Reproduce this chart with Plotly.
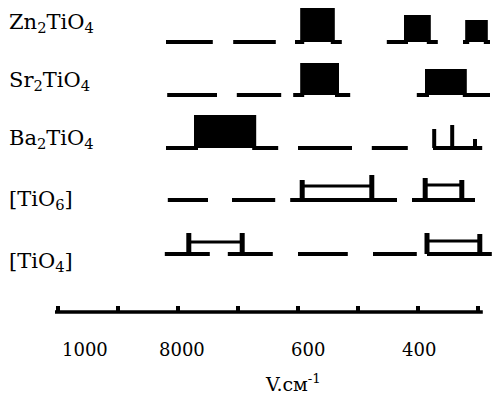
import plotly.graph_objects as go

# ---------------- data (wavenumber, cm-1; heights in relative units) ----------------
rows = ["Zn<sub>2</sub>TiO<sub>4</sub>", "Sr<sub>2</sub>TiO<sub>4</sub>", "Ba<sub>2</sub>TiO<sub>4</sub>",
        "[TiO<sub>6</sub>]", "[TiO<sub>4</sub>]"]

# plain baseline segments (start, end)
zn_dashes = [(820, 742), (708, 637)]
sr_dashes = [(818, 735), (702, 628)]
ba_dashes = [(600, 510), (477, 417), (375, 293)]
tio6_dashes = [(817, 750), (710, 638), (613, 435), (410, 305)]
tio4_dashes = [(822, 747), (717, 642), (600, 517), (475, 402), (385, 277)]

# strong bands: (foot start, body left, body right, foot end, height)
zn_bands = [(605, 593, 542, 527, 32), (452, 420, 382, 367, 25), (325, 318, 287, 280, 20)]
sr_bands = [(608, 593, 535, 513, 30), (402, 385, 322, 280, 24)]
ba_bands = [(820, 770, 673, 633, 31)]

# weak lines: (position, height)
ba_lines = [(373, 19), (343, 23), (305, 9)]

# band ranges: (left pos, left height, right pos, right height, bar height)
tio6_ranges = [(593, 20, 477, 25, 14), (388, 22, 327, 20, 15)]
tio4_ranges = [(782, 21, 693, 21, 12), (385, 21, 297, 20, 13)]

# scale
scale_ticks = [1000, 900, 800, 700, 600, 500, 400, 300]
scale_span = (1005, 292)
tick_labels = ["1000", "8000", "600", "400"]
tick_label_pos = [955, 793, 583, 398]
axis_title = "V.см<sup>-1</sup>"
axis_title_pos = 608

# ---------------- layout constants ----------------
W, H = 497, 397
row_base = [355, 302, 249, 197, 143]   # baseline of each row (y units = px from bottom)
row_label_y = [374, 316, 258, 197, 135]
scale_y = 85
tick_len = 6
BLACK = "#000000"

fig = go.Figure()


def add_segments(segs, yb, width=4):
    xs, ys = [], []
    for a, b in segs:
        xs += [a, b, None]
        ys += [yb, yb, None]
    fig.add_trace(go.Scatter(x=xs, y=ys, mode="lines", line=dict(color=BLACK, width=width),
                             hoverinfo="skip", showlegend=False))


def add_bands(bands, yb):
    xs, ys = [], []
    for fs, bl, br, fe, h in bands:
        xs += [fs, bl, bl, br, br, fe, None]
        ys += [yb, yb, yb + h, yb + h, yb, yb, None]
    fig.add_trace(go.Scatter(x=xs, y=ys, mode="lines", fill="toself", fillcolor=BLACK,
                             line=dict(color=BLACK, width=4), hoverinfo="skip", showlegend=False))


def add_lines(lines, yb, width=4):
    xs, ys = [], []
    for p, h in lines:
        xs += [p, p, None]
        ys += [yb, yb + h, None]
    fig.add_trace(go.Scatter(x=xs, y=ys, mode="lines", line=dict(color=BLACK, width=width),
                             hoverinfo="skip", showlegend=False))


def add_ranges(ranges, yb):
    verts = []
    xs, ys = [], []
    for lp, lh, rp, rh, bh in ranges:
        verts += [(lp, lh), (rp, rh)]
        xs += [lp, rp, None]
        ys += [yb + bh, yb + bh, None]
    add_lines(verts, yb, width=5)
    fig.add_trace(go.Scatter(x=xs, y=ys, mode="lines", line=dict(color=BLACK, width=3),
                             hoverinfo="skip", showlegend=False))


# Zn2TiO4
add_segments(zn_dashes, row_base[0])
add_bands(zn_bands, row_base[0])
# Sr2TiO4
add_segments(sr_dashes, row_base[1])
add_bands(sr_bands, row_base[1])
# Ba2TiO4
add_segments(ba_dashes, row_base[2])
add_bands(ba_bands, row_base[2])
add_lines(ba_lines, row_base[2])
# [TiO6]
add_segments(tio6_dashes, row_base[3])
add_ranges(tio6_ranges, row_base[3])
# [TiO4]
add_segments(tio4_dashes, row_base[4])
add_ranges(tio4_ranges, row_base[4])

# scale line with ticks
add_segments([scale_span], scale_y, width=3.5)
add_lines([(t, tick_len) for t in scale_ticks], scale_y, width=4)

annotations = []
for name, yl in zip(rows, row_label_y):
    annotations.append(dict(text=name, x=7 / W, xref="paper", y=yl, yref="y",
                            xanchor="left", yanchor="middle", showarrow=False,
                            font=dict(family="DejaVu Serif", size=21, color=BLACK)))
for lab, pos in zip(tick_labels, tick_label_pos):
    annotations.append(dict(text=lab, x=pos, xref="x", y=48, yref="y",
                            xanchor="center", yanchor="middle", showarrow=False,
                            font=dict(family="DejaVu Serif", size=18, color=BLACK)))
annotations.append(dict(text=axis_title, x=axis_title_pos, xref="x", y=14, yref="y",
                        xanchor="center", yanchor="middle", showarrow=False,
                        font=dict(family="DejaVu Serif", size=19, color=BLACK)))

x_left = 1000 + 58 / 0.6
x_right = 1000 - (W - 58) / 0.6

fig.update_layout(
    width=W, height=H,
    margin=dict(l=0, r=0, t=0, b=0),
    paper_bgcolor="white", plot_bgcolor="white",
    xaxis=dict(range=[x_left, x_right], visible=False, fixedrange=True),
    yaxis=dict(range=[0, H], visible=False, fixedrange=True),
    annotations=annotations,
    showlegend=False,
)

fig.write_html("out.html")
